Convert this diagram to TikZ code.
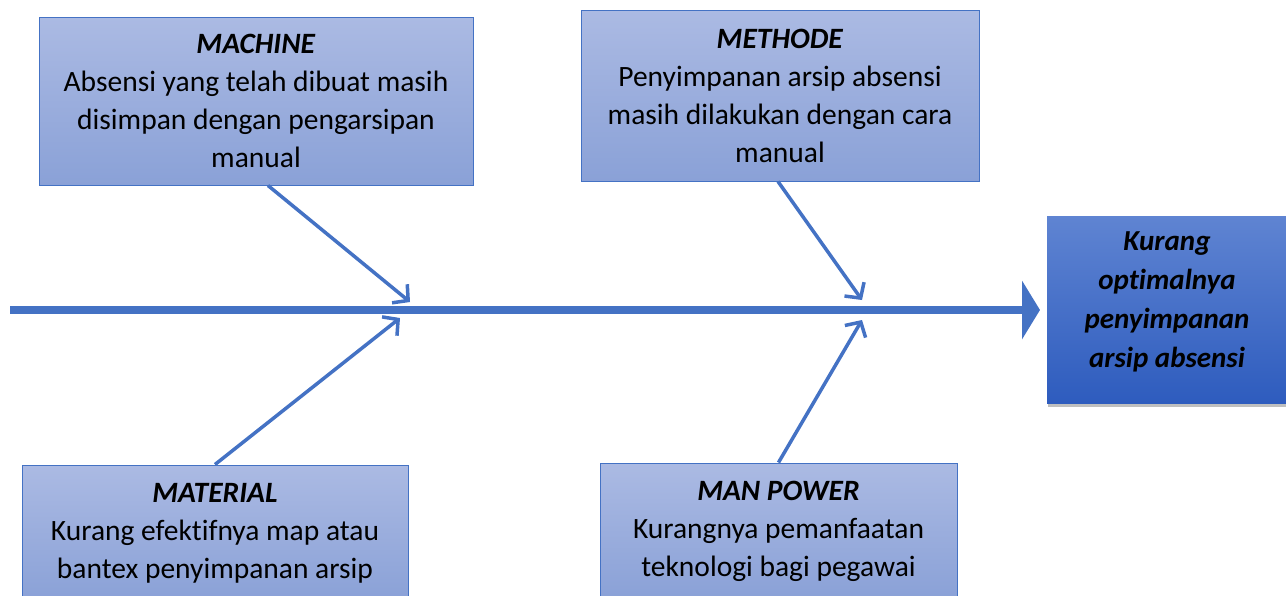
\documentclass[tikz,border=0pt]{standalone}
\usepackage{fontspec}
\setmainfont[Ligatures=NoCommon]{Carlito}
\usetikzlibrary{arrows.meta,shadows}
\definecolor{boneblue}{RGB}{68,114,196}
\definecolor{boxtop}{RGB}{171,186,227}
\definecolor{boxbot}{RGB}{138,161,215}
\definecolor{efftop}{RGB}{95,132,210}
\definecolor{effbot}{RGB}{46,92,190}
\tikzset{
  causebox/.style={draw=boneblue,line width=1pt,top color=boxtop,bottom color=boxbot,
    inner sep=0pt,align=center,font=\fontsize{29.5}{38}\selectfont},
  effectbox/.style={causebox,draw=none,top color=efftop,bottom color=effbot,
    font=\fontsize{29}{39}\selectfont\bfseries\itshape,
    drop shadow={opacity=0.5,shadow xshift=1pt,shadow yshift=-4pt}},
  bone/.style={draw=boneblue,line width=3.5pt,-{Straight Barb[length=11pt,width=24pt]}},
  spine/.style={draw=boneblue,line width=8pt,-{Triangle[length=18pt,width=58pt]}}
}
\newcommand*{\causetitle}[1]{\textbf{\textit{#1}}}
\begin{document}
\begin{tikzpicture}[x=1pt,y=-1pt]
\useasboundingbox (0,0) rectangle (1286,595);
% cause boxes
\node[causebox,minimum width=434pt,minimum height=168pt] (machine) at (256,101)
  {\causetitle{MACHINE}\\Absensi yang telah dibuat masih\\disimpan dengan pengarsipan\\manual};
\node[causebox,minimum width=398pt,minimum height=171pt] (methode) at (780,95.5)
  {\causetitle{METHODE}\\Penyimpanan arsip absensi\\masih dilakukan dengan cara\\manual};
\node[causebox,minimum width=386pt,minimum height=136pt] (material) at (215,533)
  {\causetitle{MATERIAL}\\Kurang efektifnya map atau\\bantex penyimpanan arsip};
\node[causebox,minimum width=357pt,minimum height=136pt] (manpower) at (778.5,531)
  {\causetitle{MAN POWER}\\Kurangnya pemanfaatan\\teknologi bagi pegawai};
% effect
\node[effectbox,minimum width=240pt,minimum height=187pt] (effect) at (1167,309.5)
  {Kurang\\optimalnya\\penyimpanan\\arsip absensi\vphantom{g}\\[-20pt]};
% spine
\coordinate (tail) at (10,310);
\coordinate (head) at (1040,310);
\draw[spine] (tail) -- (head);
% bones
\coordinate (jmachine) at (410,302);
\coordinate (jmethode) at (862,300);
\coordinate (jmaterial) at (400,318);
\coordinate (jmanpower) at (862,320);
\draw[bone] ([xshift=12pt]machine.south) -- (jmachine);
\draw[bone] ([xshift=-2pt]methode.south) -- (jmethode);
\draw[bone] (material.north) -- (jmaterial);
\draw[bone] (manpower.north) -- (jmanpower);
\end{tikzpicture}
\end{document}
